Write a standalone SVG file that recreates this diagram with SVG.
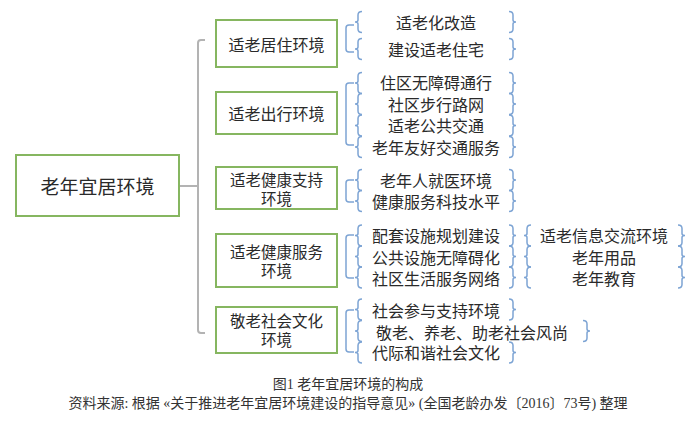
<svg xmlns="http://www.w3.org/2000/svg" width="700" height="434" viewBox="0 0 700 434">
<style>
.bx{fill:#fff;stroke:#86b660;stroke-width:2}
.t{font-family:"Noto Sans CJK SC","Noto Sans",sans-serif;fill:#2a2a2a;dominant-baseline:central;text-anchor:middle}
.m{font-size:19px}
.s{font-size:16px}
.s2{font-size:15.5px}
.br{fill:none;stroke:#7da4d4;stroke-width:1.5}
.gc{fill:none;stroke:#b3b3b3;stroke-width:2}
.cap{font-family:"Liberation Serif","Noto Sans CJK SC",serif;font-size:14px;fill:#333;text-anchor:middle}
</style>
<rect width="700" height="434" fill="#fff"/>
<g id="connectors">
<path class="gc" d="M179 186 H198 M205 40 H201 Q198 40 198 43 V330 Q198 333 201 333 H205"/>
<path class="br" d="M354 25 H349 Q346 25 346 28 V49 Q346 52 349 52 H354"/>
<path class="br" d="M354 83 H349 Q346 83 346 86 V142 Q346 145 349 145 H354"/>
<path class="br" d="M354 180 H349 Q346 180 346 183 V199 Q346 202 349 202 H354"/>
<path class="br" d="M354 235 H349 Q346 235 346 238 V275 Q346 278 349 278 H354"/>
<path class="br" d="M354 310 H349 Q346 310 346 313 V349 Q346 352 349 352 H354"/>
</g>
<defs>
<path id="lb" d="M4 -10.5 Q0 -10.5 0 -7 V-2 Q0 0 -3 0 Q0 0 0 2 V7 Q0 10.5 4 10.5"/>
<path id="rb" d="M-4 -10.5 Q0 -10.5 0 -7 V-2 Q0 0 3 0 Q0 0 0 2 V7 Q0 10.5 -4 10.5"/>
</defs>
<g id="root">
<rect class="bx" x="16" y="155" width="163" height="61"/>
<text class="t m" x="97.5" y="185.5">老年宜居环境</text>
</g>
<g id="n1">
<rect class="bx" x="216" y="20" width="121" height="47"/>
<text class="t s" x="276.5" y="44">适老居住环境</text>
</g>
<g id="n2">
<rect class="bx" x="216" y="92" width="121" height="42"/>
<text class="t s" x="276.5" y="113">适老出行环境</text>
</g>
<g id="n3">
<rect class="bx" x="216" y="167" width="121" height="42"/>
<text class="t s2" x="276.5" y="178.5">适老健康支持</text>
<text class="t s2" x="276.5" y="197.5">环境</text>
</g>
<g id="n4">
<rect class="bx" x="216" y="234" width="121" height="53"/>
<text class="t s2" x="276.5" y="251">适老健康服务</text>
<text class="t s2" x="276.5" y="270">环境</text>
</g>
<g id="n5">
<rect class="bx" x="216" y="307" width="121" height="46"/>
<text class="t s2" x="276.5" y="320">敬老社会文化</text>
<text class="t s2" x="276.5" y="339">环境</text>
</g>
<g id="g1">
<use href="#lb" class="br" x="358" y="22"/><use href="#rb" class="br" x="513" y="22"/>
<text class="t s" x="436" y="22">适老化改造</text>
<use href="#lb" class="br" x="358" y="49"/><use href="#rb" class="br" x="513" y="49"/>
<text class="t s" x="436" y="49">建设适老住宅</text>
</g>
<g id="g2">
<use href="#lb" class="br" x="358" y="83"/><use href="#rb" class="br" x="513" y="83"/>
<text class="t s" x="436" y="82">住区无障碍通行</text>
<use href="#lb" class="br" x="358" y="104"/><use href="#rb" class="br" x="513" y="104"/>
<text class="t s" x="436" y="104">社区步行路网</text>
<use href="#lb" class="br" x="358" y="125.5"/><use href="#rb" class="br" x="513" y="125.5"/>
<text class="t s" x="436" y="125">适老公共交通</text>
<use href="#lb" class="br" x="358" y="147"/><use href="#rb" class="br" x="513" y="147"/>
<text class="t s" x="436" y="147">老年友好交通服务</text>
</g>
<g id="g3">
<use href="#lb" class="br" x="358" y="180"/><use href="#rb" class="br" x="513" y="180"/>
<text class="t s" x="436" y="180">老年人就医环境</text>
<use href="#lb" class="br" x="358" y="201"/><use href="#rb" class="br" x="513" y="201"/>
<text class="t s" x="436" y="201">健康服务科技水平</text>
</g>
<g id="g4">
<use href="#lb" class="br" x="358" y="235.5"/><use href="#rb" class="br" x="513" y="235.5"/>
<text class="t s" x="436" y="235">配套设施规划建设</text>
<use href="#lb" class="br" x="358" y="256.5"/><use href="#rb" class="br" x="513" y="256.5"/>
<text class="t s" x="436" y="257">公共设施无障碍化</text>
<use href="#lb" class="br" x="358" y="277.5"/><use href="#rb" class="br" x="513" y="277.5"/>
<text class="t s" x="436" y="278">社区生活服务网络</text>
</g>
<g id="g4b">
<use href="#lb" class="br" x="527" y="235.5"/><use href="#rb" class="br" x="682" y="235.5"/>
<text class="t s" x="604" y="235">适老信息交流环境</text>
<use href="#lb" class="br" x="527" y="256.5"/><use href="#rb" class="br" x="682" y="256.5"/>
<text class="t s" x="604" y="257">老年用品</text>
<use href="#lb" class="br" x="527" y="277.5"/><use href="#rb" class="br" x="682" y="277.5"/>
<text class="t s" x="604" y="278">老年教育</text>
</g>
<g id="g5">
<use href="#lb" class="br" x="358" y="309.5"/><use href="#rb" class="br" x="513" y="309.5"/>
<text class="t s" x="436" y="310">社会参与支持环境</text>
<use href="#lb" class="br" x="358" y="331"/><use href="#rb" class="br" x="587" y="331"/>
<text class="t s" x="472" y="332">敬老、养老、助老社会风尚</text>
<use href="#lb" class="br" x="358" y="352.5"/><use href="#rb" class="br" x="513" y="352.5"/>
<text class="t s" x="436" y="352">代际和谐社会文化</text>
</g>
<g id="caption">
<text class="cap" x="348" y="389">图1 老年宜居环境的构成</text>
<text class="cap" x="348" y="408">资料来源: 根据 «关于推进老年宜居环境建设的指导意见» (全国老龄办发〔2016〕73号) 整理</text>
</g>
</svg>
